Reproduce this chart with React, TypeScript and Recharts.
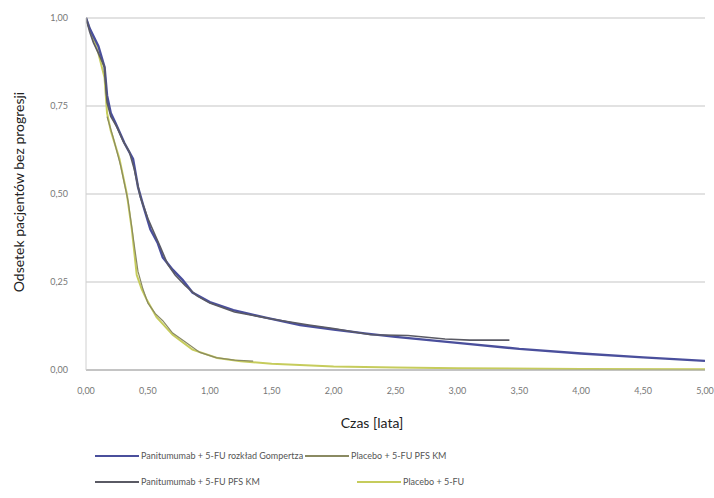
import React from "react";
import { ComposedChart, Line, XAxis, YAxis, CartesianGrid } from "recharts";

// Survival time in years
const panitumumabFitT = [0, 0.03, 0.1, 0.15, 0.17, 0.2, 0.24, 0.31, 0.38, 0.42, 0.46, 0.52, 0.58, 0.62, 0.7, 0.78, 0.86, 1.0, 1.19, 1.46, 1.73, 2.0, 2.25, 2.5, 3.0, 3.5, 4.0, 4.5, 5.0];
const panitumumabFitS = [1.0, 0.97, 0.92, 0.86, 0.78, 0.73, 0.7, 0.645, 0.6, 0.52, 0.47, 0.4, 0.36, 0.32, 0.285, 0.256, 0.22, 0.193, 0.17, 0.148, 0.128, 0.115, 0.104, 0.094, 0.077, 0.06, 0.047, 0.036, 0.026];

const panitumumabKmT = [0, 0.03, 0.06, 0.1, 0.15, 0.17, 0.2, 0.25, 0.3, 0.35, 0.39, 0.44, 0.47, 0.5, 0.55, 0.6, 0.66, 0.72, 0.8, 0.9, 1.0, 1.2, 1.5, 1.8, 2.0, 2.3, 2.6, 2.9, 3.1, 3.42];
const panitumumabKmS = [1.0, 0.96, 0.93, 0.9, 0.86, 0.76, 0.72, 0.69, 0.65, 0.62, 0.57, 0.49, 0.46, 0.43, 0.39, 0.35, 0.3, 0.27, 0.24, 0.21, 0.19, 0.165, 0.145, 0.128, 0.118, 0.1, 0.098, 0.088, 0.085, 0.085];

const placeboFitT = [0, 0.05, 0.1, 0.15, 0.17, 0.2, 0.27, 0.33, 0.37, 0.41, 0.45, 0.49, 0.57, 0.7, 0.86, 1.06, 1.25, 1.5, 2.0, 2.5, 3.0, 4.0, 5.0];
const placeboFitS = [1.0, 0.95, 0.9, 0.83, 0.73, 0.68, 0.6, 0.5, 0.4, 0.27, 0.23, 0.2, 0.15, 0.1, 0.058, 0.034, 0.025, 0.018, 0.01, 0.007, 0.005, 0.003, 0.002];

const placeboKmT = [0.17, 0.22, 0.28, 0.34, 0.38, 0.42, 0.46, 0.5, 0.56, 0.62, 0.7, 0.8, 0.92, 1.05, 1.2, 1.35];
const placeboKmS = [0.72, 0.66, 0.58, 0.48, 0.38, 0.28, 0.23, 0.19, 0.16, 0.14, 0.105, 0.08, 0.05, 0.035, 0.028, 0.025];

const xTicks = [0, 0.5, 1, 1.5, 2, 2.5, 3, 3.5, 4, 4.5, 5];
const yTicks = [0, 0.25, 0.5, 0.75, 1];

const xTitle = "Czas [lata]";
const yTitle = "Odsetek pacjentów bez progresji";

const legendRows = [
  [
    { label: "Panitumumab + 5-FU rozkład Gompertza", color: "#4a4f9c" },
    { label: "Placebo + 5-FU PFS KM", color: "#8a8a62" },
  ],
  [
    { label: "Panitumumab + 5-FU PFS KM", color: "#5a5a64" },
    { label: "Placebo + 5-FU", color: "#c6cc5c" },
  ],
];

const toRows = (t: number[], s: number[]) => t.map((v, i) => ({ t: v, s: s[i] }));

const fmt = (v: number) => v.toFixed(2).replace(".", ",");

const FONT = "Lato, 'Open Sans', sans-serif";

export default function App() {
  return (
    <div style={{ position: "absolute", left: 0, top: 0, width: 714, height: 498, background: "#fff", fontFamily: FONT }}>
      <ComposedChart width={714} height={410} margin={{ top: 18, right: 9, bottom: 10, left: 40 }}>
        <CartesianGrid vertical={false} stroke="#d9d9d9" strokeWidth={1.5} />
        <XAxis
          type="number"
          dataKey="t"
          domain={[0, 5]}
          ticks={xTicks}
          tickFormatter={fmt}
          axisLine={{ stroke: "#a6a6a6" }}
          tickLine={false}
          tick={{ fontSize: 9, fill: "#777", fontFamily: FONT }}
          tickMargin={12}
          height={30}
          allowDataOverflow
        />
        <YAxis
          type="number"
          domain={[0, 1]}
          ticks={yTicks}
          tickFormatter={fmt}
          axisLine={{ stroke: "#d0d0d0" }}
          tickLine={false}
          tick={{ fontSize: 9, fill: "#777", fontFamily: FONT }}
          tickMargin={12}
          width={46}
        />
        <Line data={toRows(placeboFitT, placeboFitS)} dataKey="s" stroke="#c6cc5c" strokeWidth={2} dot={false} isAnimationActive={false} />
        <Line data={toRows(placeboKmT, placeboKmS)} dataKey="s" stroke="#8a8a62" strokeWidth={1.2} dot={false} isAnimationActive={false} />
        <Line data={toRows(panitumumabFitT, panitumumabFitS)} dataKey="s" stroke="#4a4f9c" strokeWidth={2.4} dot={false} isAnimationActive={false} />
        <Line data={toRows(panitumumabKmT, panitumumabKmS)} dataKey="s" stroke="#5a5a64" strokeWidth={1.6} dot={false} isAnimationActive={false} />
      </ComposedChart>
      <div style={{ position: "absolute", left: 0, top: 414, width: 744, textAlign: "center", fontSize: 14, color: "#222" }}>
        {xTitle}
      </div>
      <div
        style={{
          position: "absolute",
          left: 18,
          top: 192,
          transform: "translate(-50%, -50%) rotate(-90deg)",
          whiteSpace: "nowrap",
          fontSize: 14,
          color: "#222",
        }}
      >
        {yTitle}
      </div>
      {legendRows.map((row, r) => (
        <div key={r} style={{ position: "absolute", left: 95, top: 450 + r * 26, display: "flex", fontSize: 9, color: "#555" }}>
          {row.map((item, i) => (
            <div key={i} style={{ display: "flex", alignItems: "center", width: r === 1 ? 262 : undefined, marginRight: r === 0 ? 0 : 0 }}>
              <span style={{ display: "inline-block", width: 44, height: 2, background: item.color, marginRight: 2 }} />
              <span style={{ marginRight: 2 }}>{item.label}</span>
            </div>
          ))}
        </div>
      ))}
    </div>
  );
}
